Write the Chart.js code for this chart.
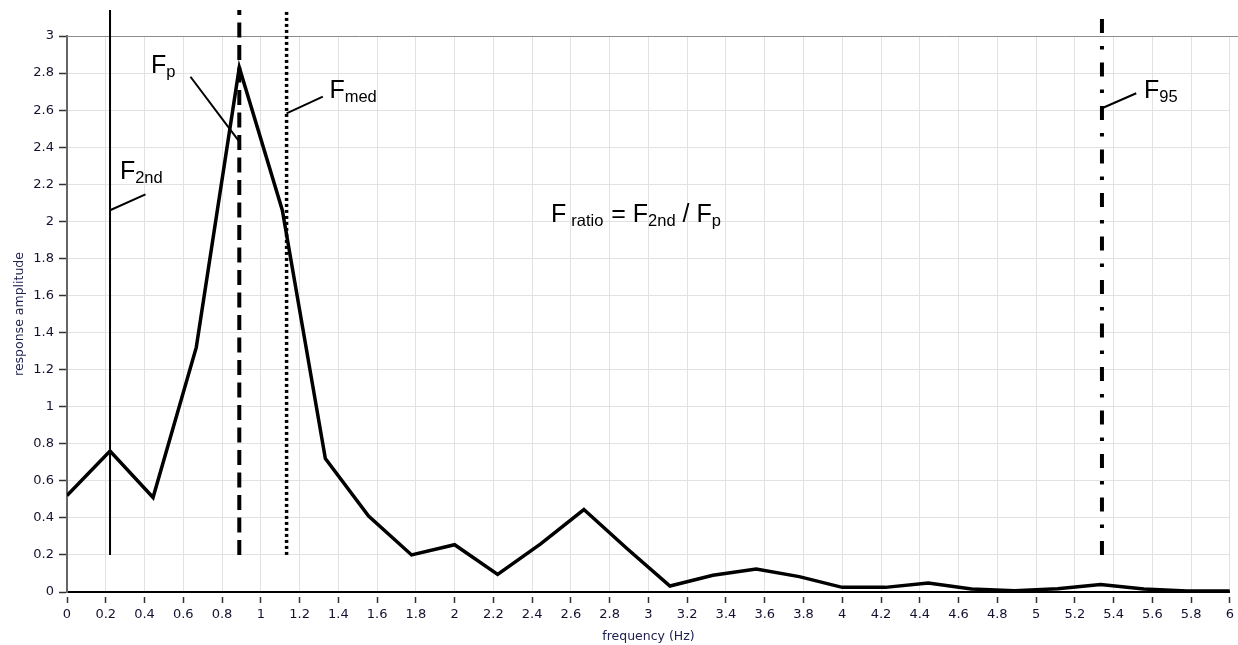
<!DOCTYPE html>
<html>
<head>
<meta charset="utf-8">
<script src="https://cdn.jsdelivr.net/npm/chart.js@4"></script>
<style>
  html, body { margin: 0; padding: 0; background: #ffffff; }
  #wrap { width: 1238px; height: 645px; position: relative; }
</style>
</head>
<body>
<div id="wrap"><canvas id="c"></canvas></div>
<script>
// ---- data ----
const frequencies = [0, 0.222, 0.444, 0.667, 0.889, 1.111, 1.333, 1.556, 1.778, 2.0,
  2.222, 2.444, 2.667, 2.889, 3.111, 3.333, 3.556, 3.778, 4.0, 4.222,
  4.444, 4.667, 4.889, 5.111, 5.333, 5.556, 5.778, 6.0];
const amplitudes = [0.52, 0.76, 0.51, 1.32, 2.83, 2.06, 0.72, 0.41, 0.20, 0.255,
  0.095, 0.26, 0.445, 0.235, 0.032, 0.09, 0.124, 0.083, 0.025, 0.025,
  0.048, 0.016, 0.007, 0.018, 0.04, 0.016, 0.005, 0.005];

const markerNames = ['2nd', 'p', 'med', '95'];
const markerFreqs = [0.222, 0.889, 1.133, 5.34];
const markerBottom = 0.2;
const markerTop = 3.14;

const xTickStep = 0.2;
const yTickStep = 0.2;
const xRange = [0, 6];
const yRange = [0, 3];

// ---- styles ----
const markerStyles = [
  { width: 2, dash: [] },
  { width: 4, dash: [15, 7.5] },
  { width: 3.5, dash: [3, 3] },
  { width: 4, dash: [14, 13, 3.5, 13] }
];

// annotation placements (data coordinates)
const labelAnchors = [
  { x: 0.273, y: 2.231 },   // F2nd
  { x: 0.433, y: 2.799 },   // Fp
  { x: 1.354, y: 2.667 },   // Fmed
  { x: 5.557, y: 2.664 }    // F95
];
const leaderEnds = [
  { y0: 2.06, x1: 0.405, y1: 2.145 },
  { y0: 2.43, x1: 0.637, y1: 2.78 },
  { y0: 2.583, x1: 1.32, y1: 2.673 },
  { y0: 2.61, x1: 5.517, y1: 2.691 }
];
const ratioAnchor = { x: 2.497, y: 1.998 };

const fmt = v => String(Math.round(v * 10) / 10);

const datasets = [{
  label: 'response',
  data: frequencies.map((f, i) => ({ x: f, y: amplitudes[i] })),
  borderColor: '#000',
  borderWidth: 3.5,
  pointRadius: 0,
  tension: 0,
  fill: false,
  order: 0
}];
markerFreqs.forEach((f, i) => {
  datasets.push({
    label: 'F' + markerNames[i],
    data: [{ x: f, y: markerBottom }, { x: f, y: markerTop }],
    borderColor: '#000',
    borderWidth: markerStyles[i].width,
    borderDash: markerStyles[i].dash,
    borderCapStyle: 'butt',
    pointRadius: 0,
    fill: false,
    clip: false,
    order: 1
  });
});

const MAIN_FONT = '25px "Liberation Sans", Arial, sans-serif';
const SUB_FONT = '16.5px "Liberation Sans", Arial, sans-serif';

function drawRich(ctx, x, y, parts) {
  let cx = x;
  for (const p of parts) {
    cx += p.gap || 0;
    ctx.font = p.sub ? SUB_FONT : MAIN_FONT;
    ctx.fillText(p.t, cx, p.sub ? y + 4 : y);
    cx += ctx.measureText(p.t).width;
  }
}

const annotPlugin = {
  id: 'annot',
  beforeDatasetsDraw(chart) {
    const { ctx, chartArea: ca } = chart;
    ctx.save();
    ctx.strokeStyle = '#8c8c8c';
    ctx.lineWidth = 1;
    ctx.beginPath();
    const yy = Math.round(ca.top) + 0.5;
    ctx.moveTo(ca.left, yy);
    ctx.lineTo(chart.width, yy);
    ctx.stroke();
    ctx.restore();
  },
  afterDatasetsDraw(chart) {
    const { ctx, scales: { x, y } } = chart;
    ctx.save();
    ctx.fillStyle = '#000';
    ctx.strokeStyle = '#000';
    ctx.lineWidth = 2;
    ctx.textBaseline = 'alphabetic';
    ctx.textAlign = 'left';
    // leader lines
    leaderEnds.forEach((l, i) => {
      ctx.beginPath();
      ctx.moveTo(x.getPixelForValue(markerFreqs[i]), y.getPixelForValue(l.y0));
      ctx.lineTo(x.getPixelForValue(l.x1), y.getPixelForValue(l.y1));
      ctx.stroke();
    });
    // labels
    labelAnchors.forEach((a, i) => {
      drawRich(ctx, x.getPixelForValue(a.x), y.getPixelForValue(a.y),
        [{ t: 'F' }, { t: markerNames[i], sub: true, gap: 0 }]);
    });
    drawRich(ctx, x.getPixelForValue(ratioAnchor.x), y.getPixelForValue(ratioAnchor.y), [
      { t: 'F' }, { t: 'ratio', sub: true, gap: 5 },
      { t: ' = ', gap: 1 }, { t: 'F' }, { t: '2nd', sub: true, gap: 0 },
      { t: ' / ', gap: 0 }, { t: 'F' }, { t: 'p', sub: true, gap: 0 }
    ]);
    ctx.restore();
  }
};

const tickFont = { family: '"DejaVu Sans", Verdana, sans-serif', size: 13 };
const titleFont = { family: '"DejaVu Sans", Verdana, sans-serif', size: 12.5 };

new Chart(document.getElementById('c'), {
  type: 'line',
  data: { datasets },
  plugins: [annotPlugin],
  options: {
    responsive: true,
    maintainAspectRatio: false,
    animation: false,
    events: [],
    layout: { padding: { top: 36, right: 6, left: 0, bottom: 0 } },
    plugins: { legend: { display: false }, tooltip: { enabled: false } },
    scales: {
      x: {
        type: 'linear',
        min: xRange[0], max: xRange[1],
        afterFit: s => { s.height = 53; },
        ticks: {
          stepSize: xTickStep, autoSkip: false, maxRotation: 0,
          color: '#121230', font: tickFont, padding: 4,
          callback: v => fmt(v)
        },
        grid: {
          color: '#e2e2e2', lineWidth: 1,
          tickLength: 11, tickColor: '#333', tickWidth: 1.5,
          tickBorderDash: [0, 4, 7, 100]
        },
        border: { color: '#000', width: 2 },
        title: {
          display: true, text: 'frequency (Hz)', color: '#20204e',
          font: titleFont, padding: { top: 0, bottom: 1 }
        }
      },
      y: {
        type: 'linear',
        min: yRange[0], max: yRange[1],
        afterFit: s => { s.width = 67; },
        ticks: {
          stepSize: yTickStep, autoSkip: false,
          color: '#121230', font: tickFont, padding: 5,
          callback: v => fmt(v)
        },
        grid: {
          color: '#e2e2e2', lineWidth: 1,
          tickLength: 8, tickColor: '#333', tickWidth: 1.5
        },
        border: { color: '#666', width: 2 },
        title: {
          display: true, text: 'response amplitude', color: '#20204e',
          font: titleFont, padding: { top: 12, bottom: 0 }
        }
      }
    }
  }
});
</script>
</body>
</html>
